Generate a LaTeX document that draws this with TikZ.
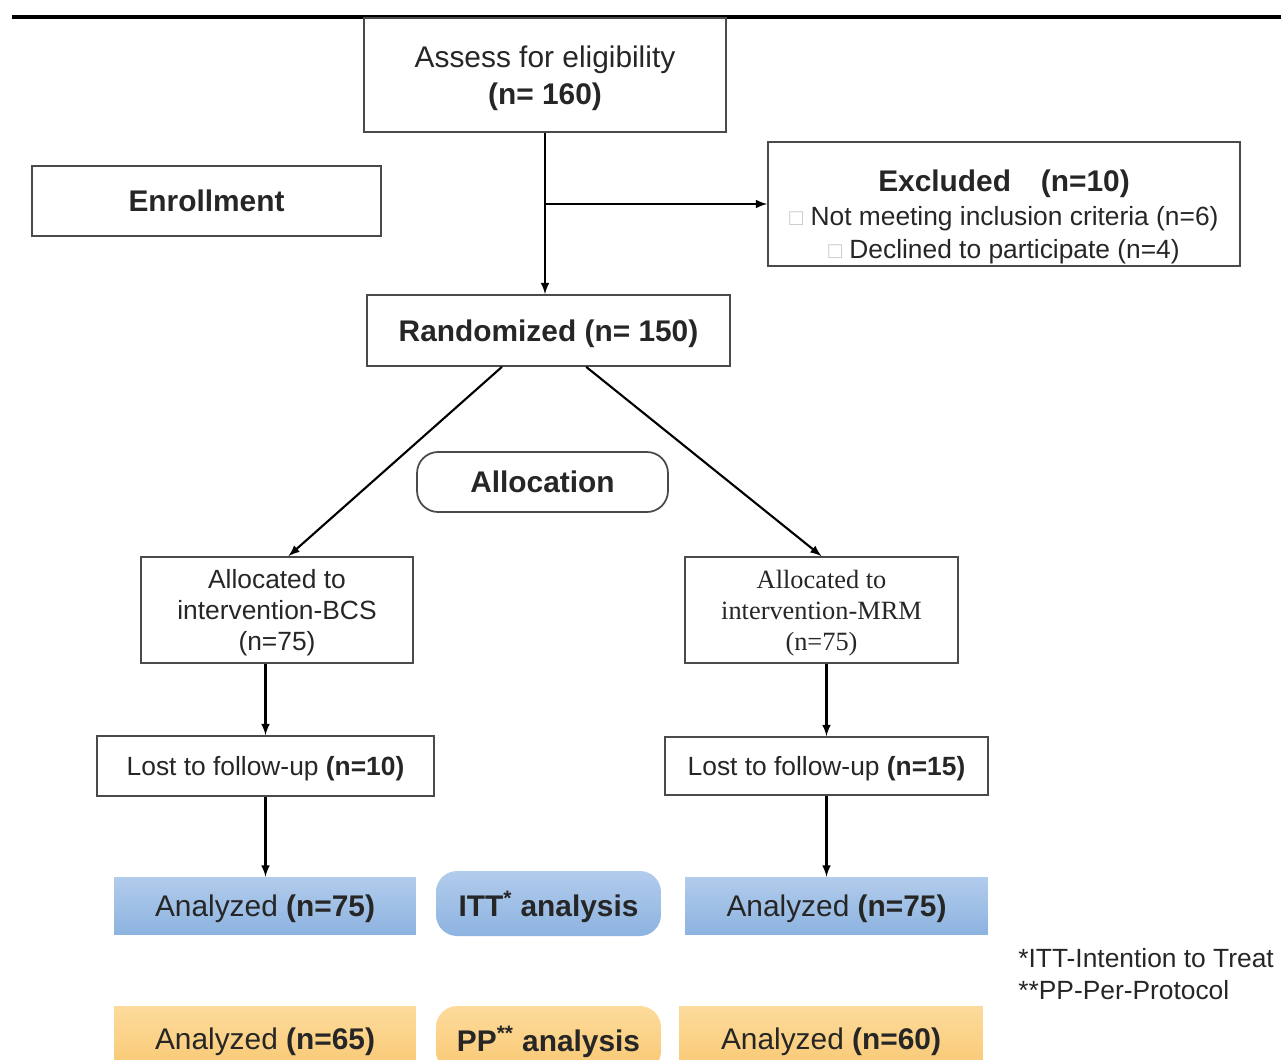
\documentclass[tikz,border=0pt]{standalone}
\usepackage{tikz}
\usepackage{color}
\usepackage{fontspec}
\setmainfont{Liberation Sans}
\newfontfamily\timesfont{Liberation Serif}
\definecolor{boxline}{HTML}{4A4A4A}
\definecolor{txt}{HTML}{262626}
\definecolor{bluetop}{HTML}{B2CCEC}
\definecolor{bluebot}{HTML}{8DB3E0}
\definecolor{orangetop}{HTML}{FDDB9C}
\definecolor{orangebot}{HTML}{F9C872}

\begin{document}
\begin{tikzpicture}[%
      x=0.02cm, y=-0.02cm,
      >=latex,
      box/.style={draw=boxline, line width=1pt, inner sep=0pt, align=center, text=txt, text depth=0pt,
                  font=\fontsize{17}{21}\selectfont},
      smallbox/.style={box, font=\fontsize{15}{17.6}\selectfont},
      bluebox/.style={inner sep=0pt, align=center, text=txt, text depth=0pt, top color=bluetop, bottom color=bluebot,
                  font=\fontsize{17}{21}\selectfont},
      orangebox/.style={inner sep=0pt, align=center, text=txt, text depth=0pt, top color=orangetop, bottom color=orangebot,
                  font=\fontsize{17}{21}\selectfont},
      arrow/.style={->, line width=1.2pt, color=black},
      ]
      \useasboundingbox (0,0) rectangle (1281,1059);
      \clip (0,0) rectangle (1281,1059);
      \draw [line width=2.2pt, color=black] (12,17) -- (1281,17);

      \node [box, minimum width=7.24cm, minimum height=2.28cm] (assess) at (545,75)
            {Assess for eligibility\\ \textbf{(n= 160)}};
      \node [box, minimum width=6.98cm, minimum height=1.4cm] (enroll) at (206.5,201)
            {\textbf{Enrollment}};
      \node [box, minimum width=9.44cm, minimum height=2.48cm, font=\fontsize{15}{18.7}\selectfont] (excl) at (1004,204)
            {\rule{0pt}{24pt}\fontsize{17}{18.7}\selectfont\textbf{Excluded\quad(n=10)}\\[1pt]
             {\color{gray!45}\fontsize{13}{13}\selectfont □} Not meeting inclusion criteria (n=6)\\
             {\color{gray!45}\fontsize{13}{13}\selectfont □} Declined to participate (n=4)};
      \node [box, minimum width=7.26cm, minimum height=1.42cm] (rand) at (548.5,330.5)
            {\textbf{Randomized (n= 150)}};
      \node [box, rounded corners=12pt, minimum width=5.02cm, minimum height=1.2cm] (alloc) at (542.5,482)
            {\textbf{Allocation}};

      \node [smallbox, minimum width=5.44cm, minimum height=2.12cm] (bcs) at (277,610)
            {Allocated to\\ intervention-BCS\\ (n=75)};
      \node [smallbox, minimum width=5.46cm, minimum height=2.12cm, font=\timesfont\fontsize{15}{17.6}\selectfont] (mrm) at (821.5,610)
            {Allocated to\\ intervention-MRM\\ (n=75)};

      \node [smallbox, minimum width=6.74cm, minimum height=1.2cm] (lostl) at (265.5,766)
            {Lost to follow-up \textbf{(n=10)}};
      \node [smallbox, minimum width=6.46cm, minimum height=1.16cm] (lostr) at (826.5,766)
            {Lost to follow-up \textbf{(n=15)}};

      \node [bluebox, minimum width=6.04cm, minimum height=1.14cm] (anal) at (265,905.5)
            {Analyzed \textbf{(n=75)}};
      \node [bluebox, rounded corners=12pt, minimum width=4.5cm, minimum height=1.3cm] (itt) at (548.5,903.5)
            {\textbf{ITT\textsuperscript{*} analysis}};
      \node [bluebox, minimum width=6.06cm, minimum height=1.14cm] (anar) at (836.5,905.5)
            {Analyzed \textbf{(n=75)}};

      \node [orangebox, minimum width=6.04cm, minimum height=1.32cm] (ppl) at (265,1039)
            {Analyzed \textbf{(n=65)}};
      \node [orangebox, rounded corners=12pt, minimum width=4.5cm, minimum height=1.32cm] (pp) at (548.5,1039)
            {\textbf{PP\textsuperscript{**} analysis}};
      \node [orangebox, minimum width=6.08cm, minimum height=1.32cm] (ppr) at (831,1039)
            {Analyzed \textbf{(n=60)}};

      \node [anchor=west, align=left, inner sep=0pt, text=txt, font=\fontsize{15}{18.7}\selectfont] (foot) at (1018,974)
            {*ITT-Intention to Treat\\ **PP-Per-Protocol};

      \coordinate (branch) at (assess.south |- excl.west);
      \draw [arrow] (assess.south) -- (assess.south |- rand.north);
      \draw [arrow] (branch) -- (excl.west);
      \draw [arrow] (rand.218) -- (bcs.78);
      \draw [arrow] (rand.316) -- (mrm.north);
      \draw [arrow] (bcs.south -| lostl.north) -- (lostl.north);
      \draw [arrow] (mrm.south -| lostr.north) -- (lostr.north);
      \draw [arrow] (lostl.south) -- (lostl.south |- anal.north);
      \draw [arrow] (lostr.south) -- (lostr.south |- anar.north);
\end{tikzpicture}
\end{document}
